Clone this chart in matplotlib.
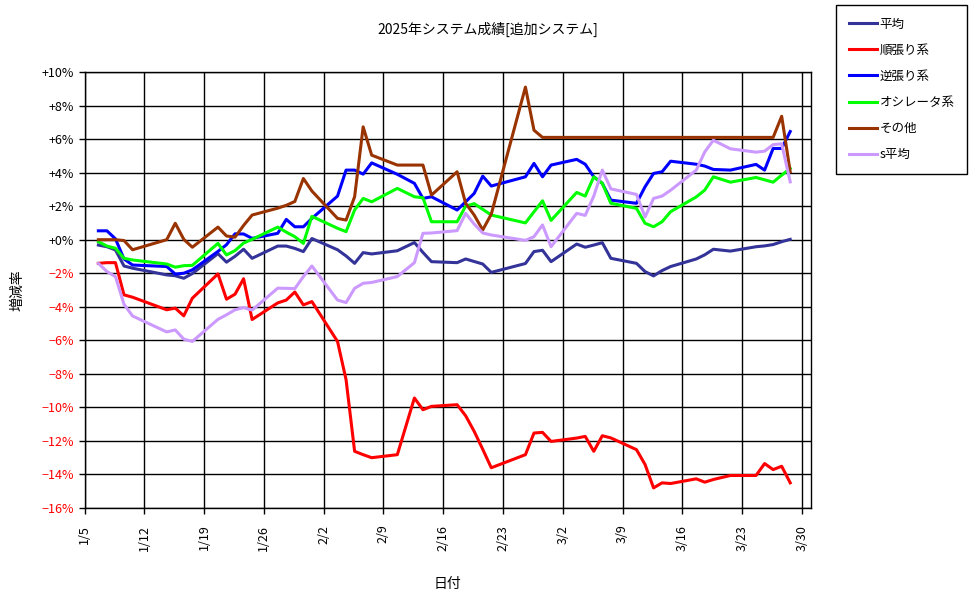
import matplotlib
matplotlib.use('Agg')
import matplotlib.pyplot as plt
import matplotlib.dates as mdates
from datetime import datetime, timedelta

plt.rcParams['font.family'] = ['Noto Sans CJK JP', 'DejaVu Sans']

# trading days (values recorded at close)
dates = ['1/6', '1/7', '1/8', '1/9', '1/10', '1/14', '1/15', '1/16', '1/17',
         '1/20', '1/21', '1/22', '1/23', '1/24', '1/27', '1/28', '1/29', '1/30', '1/31',
         '2/3', '2/4', '2/5', '2/6', '2/7', '2/10', '2/12', '2/13', '2/14',
         '2/17', '2/18', '2/19', '2/20', '2/21', '2/25', '2/26', '2/27', '2/28',
         '3/3', '3/4', '3/5', '3/6', '3/7', '3/10', '3/11', '3/12', '3/13', '3/14',
         '3/17', '3/18', '3/19', '3/21', '3/24', '3/25', '3/26', '3/27', '3/28']

heikin = [-0.32, -0.42, -0.61, -1.57, -1.70, -2.10, -2.15, -2.30, -2.02,
          -0.83, -1.34, -0.99, -0.57, -1.11, -0.38, -0.38, -0.52, -0.71, 0.07,
          -0.60, -0.97, -1.41, -0.77, -0.85, -0.66, -0.17, -0.76, -1.31,
          -1.37, -1.15, -1.30, -1.45, -1.95, -1.42, -0.71, -0.63, -1.31,
          -0.26, -0.45, -0.32, -0.18, -1.11, -1.41, -1.90, -2.16, -1.84, -1.60,
          -1.15, -0.90, -0.57, -0.68, -0.42, -0.37, -0.29, -0.12, 0.02]

junbari = [-1.41, -1.37, -1.37, -3.29, -3.43, -4.18, -4.08, -4.54, -3.49,
           -2.04, -3.55, -3.25, -2.33, -4.76, -3.77, -3.60, -3.12, -3.89, -3.69,
           -6.07, -8.35, -12.62, -12.82, -13.00, -12.82, -9.44, -10.14, -9.94,
           -9.84, -10.50, -11.43, -12.50, -13.60, -12.82, -11.53, -11.49, -12.03,
           -11.83, -11.73, -12.62, -11.69, -11.82, -12.52, -13.40, -14.80, -14.50, -14.54,
           -14.26, -14.46, -14.30, -14.06, -14.06, -13.35, -13.71, -13.51, -14.50]

gyakubari = [0.53, 0.53, 0.05, -1.15, -1.51, -1.60, -2.05, -2.00, -1.80,
             -0.70, -0.30, 0.35, 0.34, 0.08, 0.38, 1.21, 0.77, 0.77, 1.27,
             2.60, 4.15, 4.15, 3.91, 4.58, 3.90, 3.36, 2.46, 2.56,
             1.77, 2.26, 2.76, 3.79, 3.20, 3.75, 4.55, 3.75, 4.45,
             4.79, 4.50, 3.75, 3.36, 2.36, 2.17, 3.15, 3.95, 4.05, 4.68,
             4.50, 4.39, 4.19, 4.15, 4.49, 4.15, 5.44, 5.44, 6.45]

oscillator = [-0.12, -0.38, -0.51, -1.11, -1.21, -1.45, -1.64, -1.55, -1.53,
              -0.22, -0.91, -0.65, -0.20, 0.02, 0.75, 0.45, 0.18, -0.22, 1.39,
              0.68, 0.48, 1.77, 2.46, 2.26, 3.06, 2.56, 2.50, 1.07,
              1.07, 2.00, 2.15, 1.81, 1.47, 1.00, 1.66, 2.32, 1.15,
              2.82, 2.60, 3.75, 3.36, 2.17, 1.87, 0.98, 0.77, 1.07, 1.67,
              2.55, 2.96, 3.75, 3.43, 3.71, 3.57, 3.43, 3.85, 4.25]

sonota = [0.00, 0.00, 0.00, -0.05, -0.60, 0.00, 0.98, 0.02, -0.45,
          0.75, 0.22, 0.15, 0.85, 1.47, 1.88, 2.05, 2.28, 3.65, 2.90,
          1.27, 1.17, 2.56, 6.73, 5.04, 4.45, 4.45, 4.45, 2.66,
          4.05, 2.17, 1.47, 0.58, 1.52, 9.10, 6.53, 6.10, 6.10,
          6.10, 6.10, 6.10, 6.10, 6.10, 6.10, 6.10, 6.10, 6.10, 6.10,
          6.10, 6.10, 6.10, 6.10, 6.10, 6.10, 6.10, 7.36, 4.05]

s_heikin = [-1.41, -1.90, -2.20, -3.85, -4.55, -5.50, -5.38, -5.93, -6.07,
            -4.75, -4.48, -4.18, -4.05, -4.20, -2.89, -2.90, -2.92, -2.20, -1.57,
            -3.60, -3.75, -2.90, -2.60, -2.55, -2.20, -1.37, 0.38, 0.40,
            0.54, 1.57, 0.93, 0.40, 0.28, -0.04, 0.18, 0.88, -0.42,
            1.57, 1.45, 2.60, 4.15, 3.03, 2.70, 1.35, 2.46, 2.60, 2.95,
            4.15, 5.24, 5.93, 5.42, 5.22, 5.28, 5.67, 5.72, 3.45]

series = [('平均', heikin, '#333399'),
          ('順張り系', junbari, '#ff0000'),
          ('逆張り系', gyakubari, '#0000ff'),
          ('オシレータ系', oscillator, '#00ff00'),
          ('その他', sonota, '#993300'),
          ('s平均', s_heikin, '#cc99ff')]

x = [datetime(2025, int(d.split('/')[0]), int(d.split('/')[1]), 15, 0) for d in dates]

fig = plt.figure(figsize=(9.76, 5.99), dpi=100)
ax = fig.add_axes([84.5 / 976, 1 - 508 / 599, (810.5 - 84.5) / 976, (508 - 72) / 599])

for name, vals, col in series:
    ax.plot(x, vals, color=col, linewidth=2.2, label=name, zorder=3)

ax.set_ylim(-16, 10)
yt = list(range(-16, 11, 2))
ax.set_yticks(yt)
ax.set_yticklabels([('+%d%%' % v) if v >= 0 else ('\u2212%d%%' % -v) for v in yt], fontsize=9)
for lbl, v in zip(ax.get_yticklabels(), yt):
    lbl.set_color('black' if v >= 0 else 'red')

start = datetime(2025, 1, 5)
xt = [start + timedelta(days=7 * i) for i in range(13)]
ax.set_xlim(start, datetime(2025, 3, 31))
ax.set_xticks(xt)
ax.set_xticklabels(['%d/%d' % (d.month, d.day) for d in xt], rotation=90, fontsize=9)

ax.grid(True, color='black', linewidth=1)
ax.set_axisbelow(True)
ax.tick_params(length=4, width=1, color='black')
ax.tick_params(axis='x', pad=8)
for sp in ax.spines.values():
    sp.set_color('black')
    sp.set_linewidth(1)

ax.set_xlabel('日付', fontsize=10, labelpad=19)
ax.set_ylabel('増減率', fontsize=10, labelpad=12)

fig.text(0.5, 1 - 29 / 599, '2025年システム成績[追加システム]', ha='center', va='center', fontsize=10)

leg = fig.legend(loc='upper left', bbox_to_anchor=(836 / 976, 1 - 5 / 599), fontsize=9,
                 frameon=True, fancybox=False, edgecolor='black', framealpha=1,
                 handlelength=2.3, handletextpad=0.2, labelspacing=1.05,
                 borderpad=1.0, borderaxespad=0)
leg.get_frame().set_linewidth(1)

fig.savefig('out.png', dpi=100)
